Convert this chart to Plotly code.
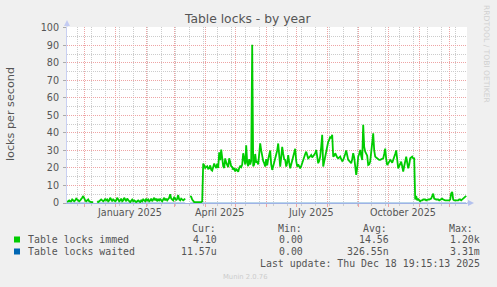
import pandas as pd
import plotly.graph_objects as go

# ---------------- data ----------------
start_day = "2024-11-14"          # first daily sample
n_days = 400
dates = pd.date_range(start_day, periods=n_days, freq="D")

N = None
immed = [
    0.5, 1.0, 1.5, 1.0, 1.0, 2.0, 1.5, 1.0, 1.5, 2.5,
    2.0, 1.5, 1.0, 1.5, 2.0, 3.0, 4.0, 2.0, 1.5, 1.0,
    1.5, 2.0, 1.0, 0.5, 0.5, 0.5, 0.5, N, N, N,
    1.0, 0.5, 1.0, 1.5, 2.0, 1.5, 1.0, 1.5, 2.5, 1.5,
    2.0, 1.0, 1.5, 3.0, 1.5, 1.0, 2.0, 1.5, 1.0, 1.5,
    3.0, 2.0, 1.0, 1.5, 2.5, 1.0, 1.5, 3.0, 1.5, 1.0,
    2.5, 1.5, 1.0, 0.5, 1.5, 2.0, 1.0, 1.5, 1.0, 0.5,
    1.0, 1.5, 1.0, 0.5, 1.5, 1.0, 2.0, 1.5, 1.0, 2.5,
    1.5, 2.0, 1.0, 1.5, 2.5, 1.0, 2.0, 3.0, 1.5, 2.5,
    1.0, 2.0, 1.5, 2.5, 1.5, 1.0, 2.0, 3.0, 1.5, 2.5,
    1.5, 2.0, 3.0, 5.0, 2.5, 2.0, 1.5, 3.5, 2.0, 1.5,
    2.5, 4.5, 2.0, 1.5, 2.5, 2.0, 1.5, 2.0, 2.5, N,
    N, N, N, 4.0, 3.5, 2.0, 1.0, 0.5, 0.5, 0.5,
    0.5, 0.5, 0.5, 0.5, 0.5, 1.0, 22.5, 21.5, 20.0, 20.5,
    21.0, 19.5, 19.8, 21.5, 19.0, 18.5, 20.0, 22.5, 21.0, 20.0,
    22.5, 20.0, 29.0, 24.5, 30.5, 24.5, 21.0, 20.0, 25.5, 23.0,
    21.0, 20.5, 25.5, 22.0, 21.0, 20.5, 19.0, 20.0, 18.0, 19.5,
    18.5, 17.9, 20.0, 21.0, 20.5, 22.0, 28.4, 24.0, 22.0, 33.0,
    23.0, 21.0, 25.0, 22.0, 24.0, 90.3, 21.0, 22.0, 28.0, 23.0,
    24.0, 22.0, 28.0, 34.0, 30.0, 26.5, 24.0, 22.7, 20.8, 25.0,
    21.5, 25.0, 28.0, 30.0, 22.0, 18.9, 21.0, 23.0, 24.6, 27.0,
    30.0, 34.0, 27.0, 20.8, 26.0, 32.0, 28.0, 25.0, 24.6, 20.8,
    23.0, 27.4, 23.0, 19.8, 22.0, 24.0, 26.5, 28.0, 31.0, 24.0,
    20.8, 22.0, 21.0, 19.8, 21.0, 23.0, 24.6, 26.0, 28.0, 29.3,
    27.0, 25.5, 26.0, 27.0, 27.4, 26.0, 27.0, 28.0, 28.4, 30.3,
    26.0, 22.7, 24.0, 26.5, 32.0, 38.9, 20.8, 24.0, 27.0, 30.0,
    34.0, 35.0, 36.0, 38.0, 37.0, 38.9, 26.5, 27.0, 28.4, 27.0,
    26.0, 25.5, 26.0, 26.5, 25.0, 24.0, 24.6, 26.0, 28.0, 30.0,
    27.0, 24.6, 24.0, 23.0, 22.7, 25.0, 28.4, 26.0, 21.0, 16.0,
    20.0, 26.5, 28.0, 30.3, 27.0, 24.6, 44.6, 32.0, 29.3, 28.4,
    27.0, 21.7, 22.0, 23.6, 28.0, 34.0, 39.8, 30.0, 26.5, 26.0,
    25.5, 25.0, 24.6, 24.6, 25.0, 25.2, 25.5, 28.0, 31.0, 25.0,
    21.7, 22.5, 23.5, 24.6, 24.0, 23.0, 24.6, 26.0, 28.0, 30.0,
    24.0, 19.8, 21.0, 22.5, 23.6, 21.0, 18.0, 21.0, 24.0, 26.5,
    23.0, 19.8, 22.0, 25.5, 26.0, 26.5, 25.5, 25.5, 2.0, 4.0,
    1.5, 2.5, 1.5, 1.0, 1.5, 1.5, 2.0, 2.0, 2.0, 1.5,
    2.0, 2.0, 2.0, 2.5, 2.5, 4.0, 5.3, 2.5, 2.0, 2.0,
    2.0, 2.0, 1.5, 2.0, 2.0, 2.5, 2.0, 1.5, 1.5, 1.5,
    1.5, 1.5, 1.5, 2.0, 5.5, 6.3, 2.0, 1.5, 1.5, 1.5,
    1.5, 1.5, 2.0, 2.0, 1.5, 2.0, 2.5, 3.5, 4.0, 4.1,
]
# waited locks: practically zero everywhere (same gaps as immed)
waited = [None if v is None else 0.0 for v in immed]
waited[300] = 0.00331

series_names = ["Table locks immed", "Table locks waited"]
series_colors = ["#00cc00", "#0066b3"]
cur_vals = ["4.10", "11.57u"]
min_vals = ["0.00", "0.00"]
avg_vals = ["14.56", "326.55n"]
max_vals = ["1.20k", "3.31m"]

y_ticks = list(range(0, 101, 10))
y_minor = list(range(5, 100, 10))
x_label_dates = ["2025-01-15 12:00", "2025-04-15 12:00", "2025-07-15 12:00", "2025-10-15 12:00"]
x_label_text = ["January 2025", "April 2025", "July 2025", "October 2025"]

x_start = "2024-11-13 19:15:13"
x_end = "2025-12-18 19:15:13"

title = "Table locks - by year"
y_title = "locks per second"
last_update = "Last update: Thu Dec 18 19:15:13 2025"

# ---------------- geometry ----------------
W, H = 497, 287
L, R, T, B = 67, 30, 27, 84
PW, PH = W - L - R, H - T - B
Y_MAX = 100.5   # a hair of headroom so the 100 gridline is drawn


def px(x):
    return (x - L) / PW


def py(y):
    return (H - B - y) / PH


SANS = "DejaVu Sans"
MONO = "DejaVu Sans Mono"
TXT = "#555555"
MGRID = "#eea4a4"
GRID = "#cccccc"

fig = go.Figure()
fig.add_trace(go.Scatter(x=dates, y=waited, mode="lines",
                         line=dict(color=series_colors[1], width=1),
                         opacity=0.55, showlegend=False, hoverinfo="skip",
                         connectgaps=False))
fig.add_trace(go.Scatter(x=dates, y=immed, mode="lines",
                         line=dict(color=series_colors[0], width=1.8),
                         showlegend=False, hoverinfo="skip",
                         connectgaps=False))

fig.update_layout(
    width=W, height=H,
    margin=dict(l=L, r=R, t=T, b=B, pad=0),
    paper_bgcolor="#f0f0f0", plot_bgcolor="#ffffff",
    font=dict(family=SANS, size=9.5, color=TXT),
    showlegend=False,
)

fig.update_xaxes(
    type="date", range=[x_start, x_end],
    showticklabels=False,
    dtick="M1", tick0="2025-01-01",
    showgrid=True, gridcolor=MGRID, griddash="1px,1px", gridwidth=1,
    ticks="outside", ticklen=3, tickcolor=MGRID,
    minor=dict(dtick=14 * 86400000, tick0="2024-11-24",
               showgrid=True, gridcolor=GRID, griddash="1px,1px",
               ticks="outside", ticklen=2, tickcolor=GRID),
    showline=True, linecolor="#9fb2e6", linewidth=1,
    zeroline=False, fixedrange=True,
)
fig.update_yaxes(
    range=[0, Y_MAX], tickvals=y_ticks,
    showgrid=True, gridcolor=MGRID, griddash="1px,1px", gridwidth=1,
    ticks="outside", ticklen=3, tickcolor="#aaaaaa",
    ticklabelstandoff=2,
    tickfont=dict(family=SANS, size=9.6, color=TXT),
    minor=dict(tickvals=y_minor, showgrid=True, gridcolor=GRID, griddash="1px,1px"),
    showline=True, linecolor="#c9d0f2", linewidth=1,
    zeroline=False, fixedrange=True,
)

ann = []
# title
ann.append(dict(text=title, x=px(248), y=py(19), xref="paper", yref="paper",
                xanchor="center", yanchor="middle", showarrow=False,
                font=dict(family=SANS, size=12.3, color=TXT)))
# y title
ann.append(dict(text=y_title, x=px(11), y=py(114), xref="paper", yref="paper",
                xanchor="center", yanchor="middle", showarrow=False, textangle=-90,
                font=dict(family=SANS, size=11.2, color=TXT)))
# x labels
for d, t in zip(x_label_dates, x_label_text):
    ann.append(dict(text=t, x=d, y=py(212.5), xref="x", yref="paper",
                    xanchor="center", yanchor="middle", showarrow=False,
                    font=dict(family=SANS, size=9.6, color=TXT)))
# vertical watermark
ann.append(dict(text="RRDTOOL / TOBI OETIKER", x=px(487), y=py(54), xref="paper", yref="paper",
                xanchor="center", yanchor="middle", showarrow=False, textangle=90,
                font=dict(family=SANS, size=7.6, color="#d0d0d0")))
# legend headers
mono = dict(family=MONO, size=9.9, color=TXT)
for head, xl in zip(["Cur:", "Min:", "Avg:", "Max:"], [190, 276, 361, 447]):
    ann.append(dict(text=head, x=px(xl), y=py(228), xref="paper", yref="paper",
                    xanchor="left", yanchor="middle", showarrow=False, font=mono))
rows_y = [239.5, 251.5]
for i in range(2):
    ann.append(dict(text=series_names[i], x=px(26), y=py(rows_y[i]), xref="paper", yref="paper",
                    xanchor="left", yanchor="middle", showarrow=False, font=mono))
    for vals, xr in zip([cur_vals, min_vals, avg_vals, max_vals], [219, 305, 391, 482]):
        ann.append(dict(text=vals[i], x=px(xr), y=py(rows_y[i]), xref="paper", yref="paper",
                        xanchor="right", yanchor="middle", showarrow=False, font=mono))
ann.append(dict(text=last_update, x=px(482), y=py(263.5), xref="paper", yref="paper",
                xanchor="right", yanchor="middle", showarrow=False, font=mono))
ann.append(dict(text="Munin 2.0.76", x=px(245), y=py(277), xref="paper", yref="paper",
                xanchor="center", yanchor="middle", showarrow=False,
                font=dict(family=SANS, size=6.8, color="#cccccc")))
fig.update_layout(annotations=ann)

shapes = []
# legend colour boxes
for i in range(2):
    yc = rows_y[i]
    shapes.append(dict(type="rect", xref="paper", yref="paper",
                       x0=px(14), x1=px(20), y0=py(yc - 3), y1=py(yc + 3),
                       fillcolor=series_colors[i], line=dict(width=0)))
# axis arrows
shapes.append(dict(type="line", xref="paper", yref="paper",
                   x0=px(67), x1=px(67), y0=py(27), y1=py(24),
                   line=dict(color="#c9d0f2", width=1)))
shapes.append(dict(type="path", xref="paper", yref="paper",
                   path=f"M {px(64)} {py(26)} L {px(67)} {py(20)} L {px(70)} {py(26)} Z",
                   fillcolor="#c3cbf2", line=dict(width=0)))
shapes.append(dict(type="line", xref="paper", yref="paper",
                   x0=px(467), x1=px(469), y0=py(203), y1=py(203),
                   line=dict(color="#9fb2e6", width=1)))
shapes.append(dict(type="path", xref="paper", yref="paper",
                   path=f"M {px(468)} {py(200)} L {px(474)} {py(203)} L {px(468)} {py(206)} Z",
                   fillcolor="#b3c1ee", line=dict(width=0)))
fig.update_layout(shapes=shapes)

fig.write_html("out.html")
